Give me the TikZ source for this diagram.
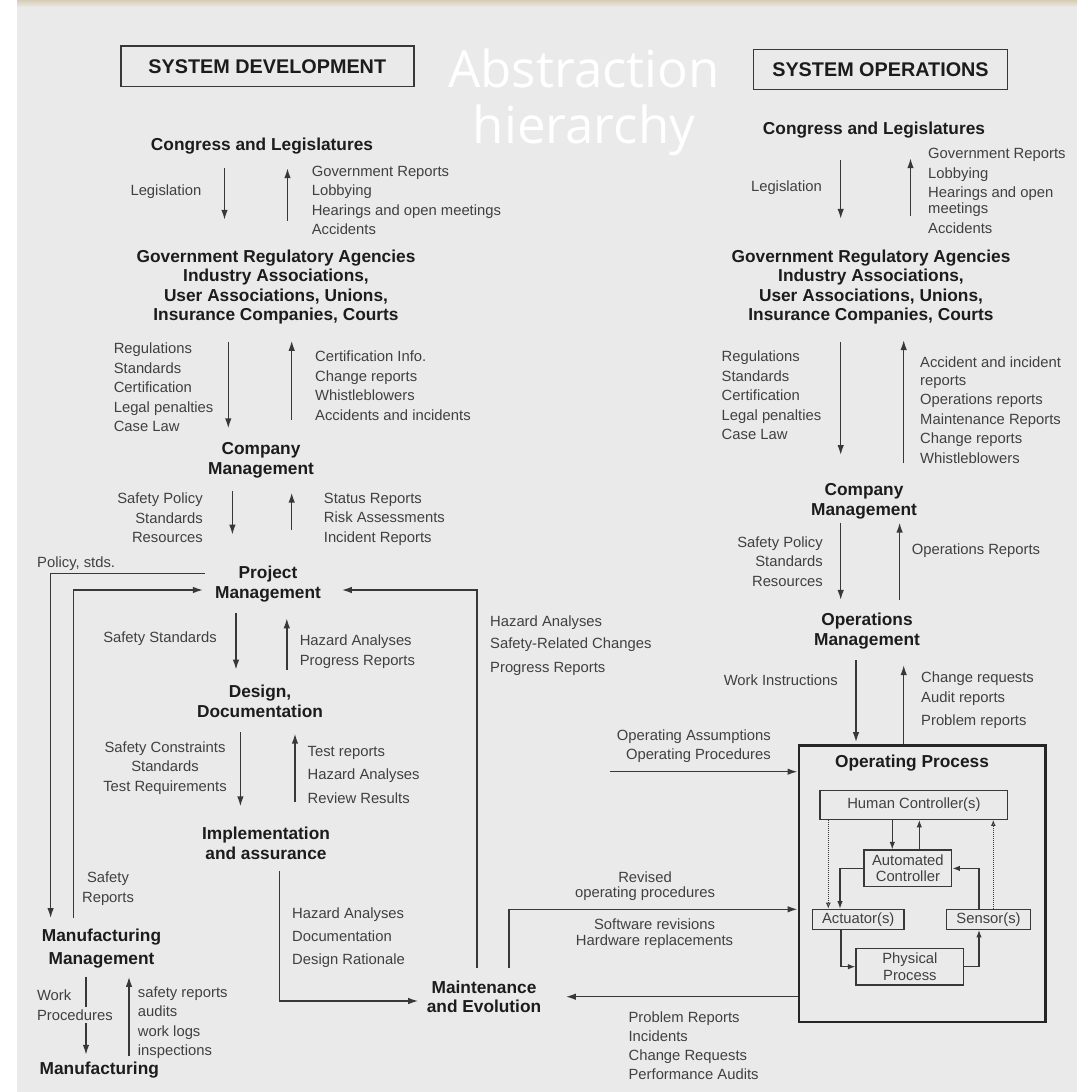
\documentclass[tikz,border=0pt]{standalone}
\usepackage{fontspec}
\setmainfont{Liberation Sans}
\newfontfamily\titlefont{Open Sans}
\usetikzlibrary{arrows.meta}
\definecolor{bgcol}{RGB}{234,234,234}
\definecolor{lvlcol}{RGB}{28,28,28}
\definecolor{txtcol}{RGB}{64,64,64}
\definecolor{linecol}{RGB}{56,56,56}
\definecolor{tancol}{RGB}{214,204,184}
\tikzstyle{lvl}=[inner sep=0pt, align=center, text=lvlcol, font=\bfseries\fontsize{17.3}{19.6}\selectfont]
\tikzstyle{txt}=[inner sep=0pt, text=txtcol, font=\fontsize{14.8}{19.6}\selectfont]
\tikzstyle{hbox}=[draw=linecol, line width=1.4pt, inner sep=0pt, text=lvlcol, font=\bfseries\fontsize{19.8}{22}\selectfont]
\tikzstyle{pbox}=[txt, draw=linecol, line width=1.3pt, align=center]
\tikzstyle{arr}=[-{Latex[length=10pt,width=6.5pt]}, draw=linecol, line width=1.4pt]
\tikzstyle{sarr}=[-{Latex[length=7.5pt,width=5.5pt]}, draw=linecol, line width=1.2pt]
\tikzstyle{dots}=[-{Latex[open,length=6pt,width=5pt]}, densely dotted, draw=linecol, line width=1pt]

\begin{document}
\begin{tikzpicture}[x=1pt, y=-1pt]
    \useasboundingbox (0,0) rectangle (1077,1092);
    \fill[white] (0,0) rectangle (1077,1092);
    \fill[bgcol] (17,6) rectangle (1077,1092);
    \shade[top color=tancol, bottom color=bgcol] (17,0) rectangle (1077,7);

    \node[hbox, minimum width=293pt, minimum height=40.5pt] (devbox) at (267.3,66.3) {SYSTEM DEVELOPMENT};
    \node[hbox, minimum width=254pt, minimum height=40.5pt] (opsbox) at (880.5,69.5) {SYSTEM OPERATIONS};
    \node[inner sep=0pt, align=center, text=white, font=\titlefont\fontsize{51}{56}\selectfont] (title) at (584,102) {Abstraction\\hierarchy};

    \node[lvl] (congL) at (262,146.5) {Congress and Legislatures};
    \node[txt, anchor=east] (legisL) at (201.5,192) {Legislation};
    \node[txt, anchor=west, align=left] (govrepL) at (311.6,200.5) {Government Reports\\Lobbying\\Hearings and open meetings\\Accidents};
    \node[lvl] (govL) at (276,287) {Government Regulatory Agencies\\Industry Associations,\\User Associations, Unions,\\Insurance Companies, Courts};
    \node[txt, anchor=west, align=left] (regsL) at (113.6,387.5) {Regulations\\Standards\\Certification\\Legal penalties\\Case Law};
    \node[txt, anchor=west, align=left] (certL) at (315,385.8) {Certification Info.\\Change reports\\Whistleblowers\\Accidents and incidents};
    \node[lvl] (compL) at (261,460.5) {Company\\Management};
    \node[txt, anchor=east, align=right] (polL) at (203,518) {Safety Policy\\Standards\\Resources};
    \node[txt, anchor=west, align=left] (statL) at (323.7,519.3) {Status Reports\\Risk Assessments\\Incident Reports};
    \node[txt, anchor=west] (polstd) at (37,563.6) {Policy, stds.};
    \node[lvl] (projL) at (268,584) {Project\\Management};
    \node[txt, anchor=east] (safstdL) at (217,638.3) {Safety Standards};
    \node[txt, anchor=west, align=left] (hazprogL) at (299.6,651.7) {Hazard Analyses\\Progress Reports};
    \node[lvl] (designL) at (260,701.5) {Design,\\Documentation};
    \node[txt, align=center] (safconL) at (165,768) {Safety Constraints\\Standards\\Test Requirements};
    \node[txt, anchor=west, align=left] (testrepL) at (307.5,774.6) {Test reports\\[4pt]Hazard Analyses\\[4pt]Review Results};
    \node[lvl] (implL) at (266,843.5) {Implementation\\and assurance};
    \node[txt, anchor=west, align=left] (hazsaf) at (490,645.3) {Hazard Analyses\\[3pt]Safety-Related Changes\\[4pt]Progress Reports};
    \node[txt, anchor=west, align=left] (hazdoc) at (292,937.6) {Hazard Analyses\\[3.6pt]Documentation\\[3pt]Design Rationale};
    \node[lvl] (maint) at (484,997) {Maintenance\\and Evolution};
    \node[txt, align=center] (safrep) at (108,888.6) {Safety\\Reports};
    \node[lvl] (mfgmL) at (101.5,948.5) {Manufacturing\\[2.7pt]Management};
    \node[lvl] (mfgL) at (99.3,1070) {Manufacturing};
    \node[txt, anchor=west] (work) at (36.8,995) {Work};
    \node[txt, anchor=west, align=left] (saflog) at (137.7,1022.7) {safety reports\\audits\\work logs\\inspections};

    \node[lvl] (congR) at (874,130.5) {Congress and Legislatures};
    \node[txt, anchor=east] (legisR) at (822,188) {Legislation};
    \node[txt, anchor=west, align=left] (govrepR) at (928,191) {Government Reports\\Lobbying\\Hearings and open\\[-3.5pt]meetings\\Accidents};
    \node[lvl] (govR) at (871,287) {Government Regulatory Agencies\\Industry Associations,\\User Associations, Unions,\\Insurance Companies, Courts};
    \node[txt, anchor=west, align=left] (regsR) at (721.5,395.5) {Regulations\\Standards\\Certification\\Legal penalties\\Case Law};
    \node[txt, anchor=west, align=left] (accR) at (920,410.4) {Accident and incident\\[-2.5pt]reports\\Operations reports\\Maintenance Reports\\Change reports\\Whistleblowers};
    \node[lvl] (compR) at (864,501) {Company\\Management};
    \node[txt, anchor=east, align=right] (polR) at (823,561.5) {Safety Policy\\Standards\\Resources};
    \node[txt, anchor=west] (opsrepR) at (911.6,550.3) {Operations Reports};
    \node[lvl] (opsmR) at (867,631) {Operations\\Management};
    \node[txt, anchor=east] (workR) at (838,680) {Work Instructions};
    \node[txt, anchor=west, align=left] (chgR) at (921,700.2) {Change requests\\Audit reports\\[3pt]Problem reports};
    \node[txt, anchor=east, align=right] (opassum) at (771,746) {Operating Assumptions\\Operating Procedures};
    \node[draw=black!85, line width=2.8pt, minimum width=246.5pt, minimum height=276.5pt, inner sep=0pt] (opbox) at (922.2,883.8) {};
    \node[lvl] (opproc) at (912,763.4) {Operating Process};
    \node[pbox, minimum width=187.7pt, minimum height=28.6pt] (hc) at (913.9,805) {Human Controller(s)};
    \node[pbox, minimum width=87.7pt, minimum height=36.7pt] (ac) at (907.9,868.4) {Automated\\[-3.6pt]Controller};
    \node[pbox, minimum width=91.7pt, minimum height=20pt] (act) at (858.2,919.3) {Actuator(s)};
    \node[pbox, minimum width=83.5pt, minimum height=20pt] (sen) at (988.5,919.3) {Sensor(s)};
    \node[pbox, minimum width=107.8pt, minimum height=36.7pt] (pp) at (909.9,966.7) {Physical\\[-2.9pt]Process};
    \node[txt, align=center] (revised) at (645,886.3) {Revised\\[-4.2pt]operating procedures};
    \node[txt, align=center] (swrev) at (654.5,933.3) {Software revisions\\[-3.6pt]Hardware replacements};
    \node[txt, anchor=west, align=left] (probrep) at (628.4,1045.4) {Problem Reports\\[-0.5pt]Incidents\\[-0.5pt]Change Requests\\[-0.5pt]Performance Audits};
    \coordinate (opin) at (610,771.7);

    \draw[arr, shorten <=13.4pt, shorten >=29.5pt] (congL.south -| 224.5,0) -- (govL.north -| 224.5,0);
    \draw[arr, shorten <=28.8pt, shorten >=13.4pt] (govL.north -| 287.5,0) -- (congL.south -| 287.5,0);
    \draw[arr, shorten <=17.1pt, shorten >=14.3pt] (govL.south -| 228.3,0) -- (compL.north -| 228.3,0);
    \draw[arr, shorten <=22.6pt, shorten >=16.1pt] (compL.north -| 291.7,0) -- (govL.south -| 291.7,0);
    \draw[arr, shorten <=12.6pt, shorten >=31.2pt] (compL.south -| 232.4,0) -- (projL.north -| 232.4,0);
    \draw[arr, shorten <=36.2pt, shorten >=14.3pt] (projL.north -| 291.7,0) -- (compL.south -| 291.7,0);
    \draw[arr, shorten <=11.2pt, shorten >=15.5pt] (projL.south -| 236,0) -- (designL.north -| 236,0);
    \draw[arr, shorten <=15.5pt, shorten >=16.2pt] (designL.north -| 286.8,0) -- (projL.south -| 286.8,0);
    \draw[arr, shorten <=14.2pt, shorten >=20.8pt] (designL.south -| 240.4,0) -- (implL.north -| 240.4,0);
    \draw[arr, shorten <=24.8pt, shorten >=15.8pt] (implL.north -| 295,0) -- (designL.south -| 295,0);
    \draw[arr, shorten <=8.9pt, shorten >=6.9pt] (mfgmL.south -| 86,0) -- (mfgL.north -| 86,0);
    \draw[arr, shorten <=5.9pt, shorten >=8.9pt] (mfgL.north -| 129,0) -- (mfgmL.south -| 129,0);
    \node[txt, anchor=west, fill=bgcol, inner xsep=1pt, inner ysep=3pt] (procs) at (35.8,1015) {Procedures};

    \draw[arr, shorten <=10pt, shorten >=11pt] (projL.west |- 0,573.3) -| (mfgmL.north -| 50.6,0);
    \draw[arr, shorten <=11pt, shorten >=12pt] (mfgmL.north -| 73.3,0) |- (projL.west |- 0,590);
    \draw[arr, shorten <=12.7pt, shorten >=20.8pt] (maint.north -| 477,0) |- (projL.east |- 0,590);
    \draw[arr, shorten <=11.2pt, shorten >=8.4pt] (implL.south -| 279.6,0) |- (maint.west |- 0,1001);
    \draw[arr, shorten <=12.7pt] (maint.north -| 509,0) |- (opbox.west |- 0,909.3);
    \draw[arr, shorten >=24.5pt] (opbox.west |- 0,996.7) -- (maint.east |- 0,996.7);
    \draw[arr] (opin) -- (opbox.west |- opin);

    \draw[arr, shorten <=21.4pt, shorten >=30.5pt] (congR.south -| 840.7,0) -- (govR.north -| 840.7,0);
    \draw[arr, shorten <=33.5pt, shorten >=19.4pt] (govR.north -| 910.5,0) -- (congR.south -| 910.5,0);
    \draw[arr, shorten <=17.1pt, shorten >=28.1pt] (govR.south -| 840.7,0) -- (compR.north -| 840.7,0);
    \draw[arr, shorten <=20.1pt, shorten >=15.4pt] (compR.north -| 903.7,0) -- (govR.south -| 903.7,0);
    \draw[arr, shorten <=3.7pt, shorten >=13pt] (compR.south -| 840.7,0) -- (opsmR.north -| 840.7,0);
    \draw[arr, shorten <=13pt, shorten >=3.7pt] (opsmR.north -| 899.6,0) -- (compR.south -| 899.6,0);
    \draw[arr, shorten <=11pt, shorten >=2pt] (opsmR.south -| 856,0) -- (opbox.north -| 856,0);
    \draw[arr, shorten >=16pt] (opbox.north -| 903.7,0) -- (opsmR.south -| 903.7,0);

    \draw[sarr] (hc.south -| 892.3,0) -- (ac.north -| 892.3,0);
    \draw[sarr] (ac.north -| 919.3,0) -- (hc.south -| 919.3,0);
    \draw[sarr] (ac.west) -| (act.north -| 840,0);
    \draw[sarr] (sen.north -| 979,0) |- (ac.east);
    \draw[sarr] (act.south -| 841,0) |- (pp.west);
    \draw[sarr] (pp.east) -| (sen.south -| 979,0);
    \draw[dots] (hc.south -| 828.3,0) -- (act.north -| 828.3,0);
    \draw[dots] (sen.north -| 993.3,0) -- (hc.south -| 993.3,0);
\end{tikzpicture}
\end{document}
